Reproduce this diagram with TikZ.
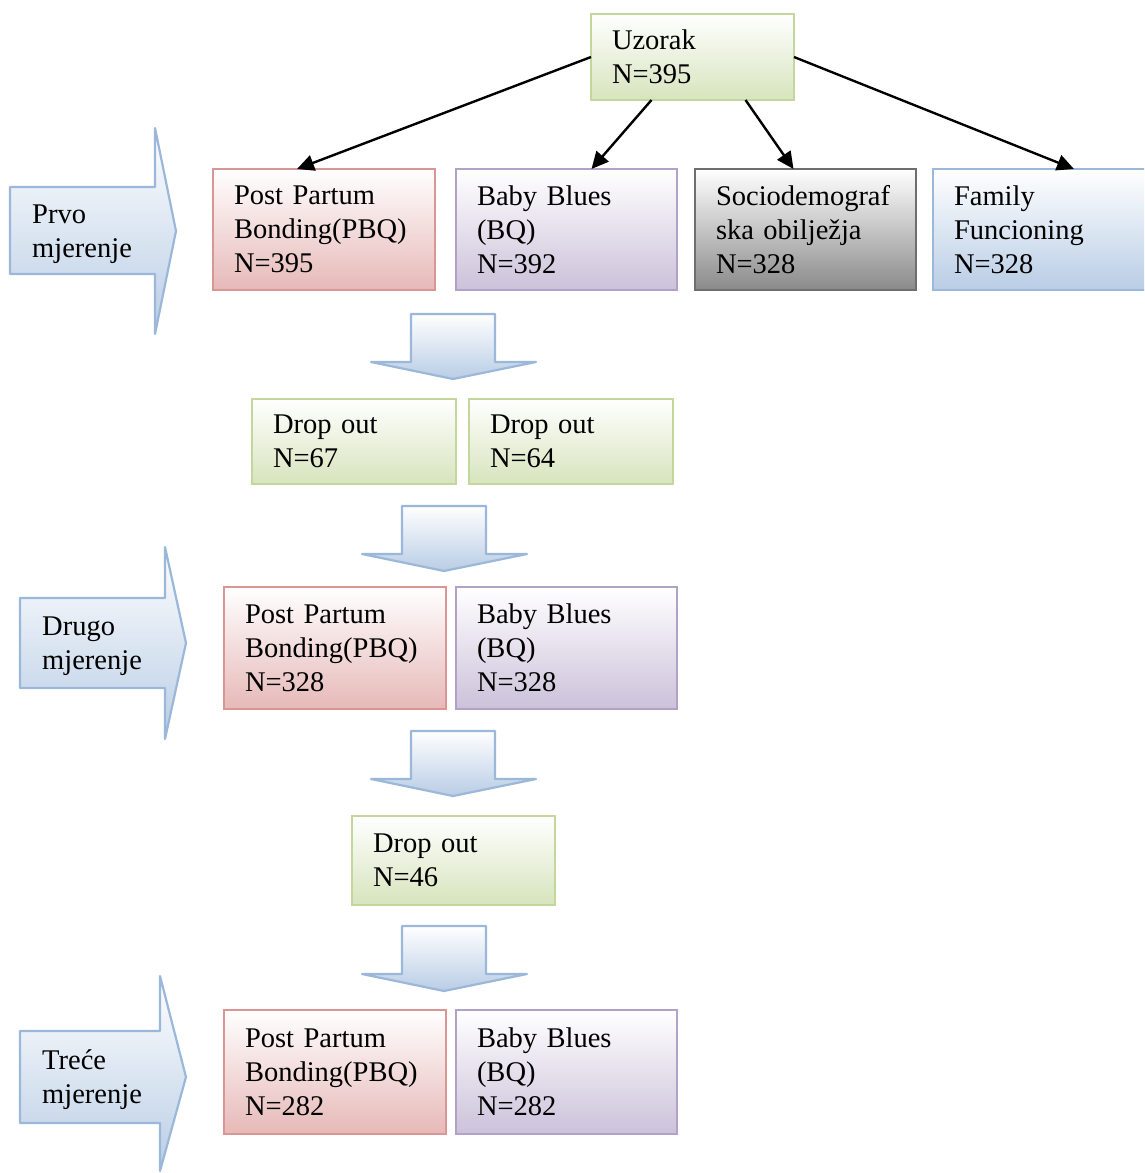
\documentclass[tikz,border=0pt]{standalone}
\usepackage{xcolor}
\usepackage{fontspec}
\setmainfont{Liberation Serif}
\usepackage{tikz}
\usetikzlibrary{arrows.meta,positioning}

\definecolor{grnline}{HTML}{C3D69B}
\definecolor{grnfill}{HTML}{D7E4BD}
\definecolor{redline}{HTML}{D99694}
\definecolor{redfill}{HTML}{E6B9B8}
\definecolor{purline}{HTML}{B3A2C7}
\definecolor{purfill}{HTML}{CCC1DA}
\definecolor{gryline}{HTML}{6E6E6E}
\definecolor{gryfill}{HTML}{8A8A8A}
\definecolor{bluline}{HTML}{9BB7D9}
\definecolor{blufill}{HTML}{B9CDE5}

\begin{document}
\begin{tikzpicture}[
  x=1pt, y=-1pt,
  box/.style={
    rectangle,
    anchor=north west,
    align=left,
    text width=180pt,
    inner xsep=21pt,
    inner ysep=0pt,
    outer sep=0pt,
    line width=2.2pt,
    shading=axis,
    top color=white
  },
  greenbox/.style={box, draw=grnline, bottom color=grnfill},
  redbox/.style={box, draw=redline, bottom color=redfill},
  purplebox/.style={box, draw=purline, bottom color=purfill},
  greybox/.style={box, draw=gryline, bottom color=gryfill},
  bluebox/.style={box, draw=bluline, bottom color=blufill},
  bigarrow/.style={line width=2.2pt, draw=bluline, shading=axis, top color=white, bottom color=blufill, line join=round},
  lbl/.style={align=left, anchor=west, inner sep=0pt},
  arr/.style={-{Triangle[length=17pt,width=16pt]}, line width=2.4pt},
  font=\fontsize{28.5}{34}\selectfont
]
\clip (0,0) rectangle (1144,1173);

% uzorak
\node[greenbox, text width=161pt, minimum height=86pt] (uzorak) at (591,14) {Uzorak\\N=395};

% prvo mjerenje
\path[bigarrow] (10,187) -- (155,187) -- (155,128) -- (176,231) -- (155,334) -- (155,274) -- (10,274) -- cycle;
\node[lbl] (prvo) at (32,234) {Prvo\\mjerenje};
\node[redbox, minimum height=121pt] (pbq1) at (213,169) {Post Partum\\Bonding(PBQ)\\N=395};
\node[purplebox, text width=179pt, minimum height=121pt, right=21pt of pbq1] (bq1) {Baby Blues\\(BQ)\\N=392};
\node[greybox, text width=179pt, minimum height=121pt, right=18pt of bq1] (socio) {Sociodemograf\\ska obilježja\\N=328};
\node[bluebox, minimum height=121pt, right=17pt of socio] (family) {Family\\Funcioning\\N=328};

\draw[arr] (uzorak.west) -- ([xshift=-27pt]pbq1.north);
\draw[arr] ([xshift=-41pt]uzorak.south) -- ([xshift=25pt]bq1.north);
\draw[arr] ([xshift=53pt]uzorak.south) -- ([xshift=-12pt]socio.north);
\draw[arr] (uzorak.east) -- ([xshift=30pt]family.north);

% block arrows down
\foreach \x/\y in {411/314, 402/506, 411/731, 402/926}
  \path[bigarrow, shift={(\x,\y)}] (0,0) -- (84,0) -- (84,48) -- (125,48) -- (42,65) -- (-40,48) -- (0,48) -- cycle;

% drop out 1
\node[greenbox, text width=162pt, minimum height=85pt] (drop1) at (252,399) {Drop out\\N=67};
\node[greenbox, text width=162pt, minimum height=85pt, right=13pt of drop1] (drop2) {Drop out\\N=64};

% drugo mjerenje
\path[bigarrow] (20,598) -- (165,598) -- (165,547) -- (186,643) -- (165,739) -- (165,688) -- (20,688) -- cycle;
\node[lbl] (drugo) at (42,646) {Drugo\\mjerenje};
\node[redbox, minimum height=122pt] (pbq2) at (224,587) {Post Partum\\Bonding(PBQ)\\N=328};
\node[purplebox, text width=179pt, minimum height=122pt, right=10pt of pbq2] (bq2) {Baby Blues\\(BQ)\\N=328};

% drop out 2
\node[greenbox, text width=161pt, minimum height=89pt] (drop3) at (352,816) {Drop out\\N=46};

% trece mjerenje
\path[bigarrow] (20,1031) -- (160,1031) -- (160,976) -- (186,1077) -- (160,1171) -- (160,1123) -- (20,1123) -- cycle;
\node[lbl] (trece) at (42,1080) {Treće\\mjerenje};
\node[redbox, minimum height=124pt] (pbq3) at (224,1010) {Post Partum\\Bonding(PBQ)\\N=282};
\node[purplebox, text width=179pt, minimum height=124pt, right=10pt of pbq3] (bq3) {Baby Blues\\(BQ)\\N=282};
\end{tikzpicture}
\end{document}
